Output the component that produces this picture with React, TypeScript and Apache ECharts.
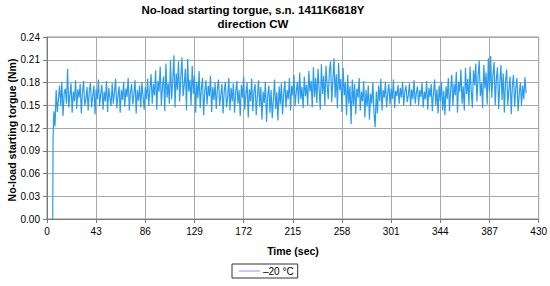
import React, { useEffect, useRef } from "react";
import * as echarts from "echarts";

const titleLines = ["No-load starting torgue, s.n. 1411K6818Y", "direction CW"];
const seriesName = "–20 °C";
const xTicks = [0, 43, 86, 129, 172, 215, 258, 301, 344, 387, 430];
const yTicks = [0, 0.03, 0.06, 0.09, 0.12, 0.15, 0.18, 0.21, 0.24];

// start-up transient (time s, torque Nm)
const startTimes = [5, 5.3, 6, 7];
const startValues = [0.0, 0.105, 0.142, 0.122];

// main record: sampled every 1 s starting at t = 8 s
const mainStart = 8;
const mainStep = 1;
const mainValues = [
  0.170, 0.141, 0.158, 0.176, 0.149, 0.181, 0.136, 0.166, 0.172, 0.152, 0.198, 0.147, 0.163, 0.179, 0.140, 0.168, 0.155, 0.183, 0.145, 0.171,
  0.160, 0.178, 0.139, 0.166, 0.182, 0.150, 0.157, 0.174, 0.143, 0.169, 0.180, 0.147, 0.162, 0.176, 0.138, 0.171, 0.158, 0.184, 0.149, 0.165,
  0.177, 0.144, 0.168, 0.155, 0.182, 0.141, 0.173, 0.160, 0.149, 0.179, 0.152, 0.167, 0.185, 0.146, 0.162, 0.175, 0.140, 0.170, 0.157, 0.181,
  0.148, 0.172, 0.161, 0.186, 0.143, 0.167, 0.178, 0.151, 0.164, 0.183, 0.139, 0.170, 0.156, 0.176, 0.147, 0.180, 0.162, 0.144, 0.174, 0.158,
  0.185, 0.149, 0.171, 0.191, 0.152, 0.178, 0.163, 0.196, 0.144, 0.182, 0.168, 0.201, 0.150, 0.175, 0.188, 0.142, 0.205, 0.160, 0.179, 0.152,
  0.210, 0.158, 0.183, 0.216, 0.147, 0.192, 0.170, 0.208, 0.155, 0.186, 0.213, 0.162, 0.177, 0.198, 0.143, 0.211, 0.168, 0.184, 0.150, 0.202,
  0.165, 0.190, 0.140, 0.181, 0.159, 0.195, 0.146, 0.172, 0.186, 0.137, 0.168, 0.183, 0.151, 0.176, 0.162, 0.189, 0.141, 0.174, 0.157, 0.180,
  0.145, 0.171, 0.184, 0.150, 0.163, 0.178, 0.139, 0.169, 0.181, 0.147, 0.160, 0.186, 0.143, 0.173, 0.155, 0.179, 0.140, 0.166, 0.182, 0.152,
  0.170, 0.136, 0.177, 0.160, 0.188, 0.144, 0.165, 0.180, 0.134, 0.171, 0.155, 0.185, 0.142, 0.168, 0.178, 0.137, 0.162, 0.183, 0.148, 0.174,
  0.131, 0.168, 0.153, 0.181, 0.128, 0.162, 0.176, 0.140, 0.170, 0.133, 0.158, 0.184, 0.145, 0.167, 0.130, 0.175, 0.151, 0.179, 0.138, 0.164,
  0.182, 0.147, 0.170, 0.158, 0.186, 0.143, 0.176, 0.163, 0.190, 0.149, 0.168, 0.181, 0.152, 0.193, 0.158, 0.174, 0.146, 0.188, 0.162, 0.177,
  0.150, 0.195, 0.168, 0.182, 0.147, 0.200, 0.161, 0.186, 0.153, 0.198, 0.171, 0.144, 0.204, 0.165, 0.189, 0.150, 0.202, 0.176, 0.158, 0.195,
  0.208, 0.154, 0.183, 0.212, 0.160, 0.191, 0.146, 0.206, 0.170, 0.185, 0.141, 0.199, 0.163, 0.180, 0.137, 0.190, 0.152, 0.175, 0.125, 0.184,
  0.150, 0.178, 0.138, 0.172, 0.160, 0.186, 0.143, 0.168, 0.155, 0.182, 0.134, 0.170, 0.148, 0.176, 0.131, 0.165, 0.152, 0.180, 0.140, 0.121,
  0.168, 0.139, 0.176, 0.155, 0.185, 0.143, 0.170, 0.160, 0.181, 0.147, 0.166, 0.178, 0.151, 0.172, 0.158, 0.184, 0.146, 0.169, 0.162, 0.177,
  0.152, 0.173, 0.160, 0.181, 0.150, 0.168, 0.176, 0.154, 0.163, 0.179, 0.149, 0.171, 0.158, 0.183, 0.152, 0.166, 0.175, 0.150, 0.170, 0.161,
  0.180, 0.147, 0.168, 0.158, 0.182, 0.144, 0.173, 0.161, 0.178, 0.142, 0.166, 0.184, 0.150, 0.171, 0.139, 0.176, 0.155, 0.181, 0.143, 0.169,
  0.137, 0.175, 0.158, 0.186, 0.142, 0.170, 0.190, 0.149, 0.178, 0.163, 0.194, 0.140, 0.181, 0.168, 0.197, 0.152, 0.175, 0.143, 0.199, 0.165,
  0.185, 0.150, 0.201, 0.170, 0.147, 0.196, 0.176, 0.205, 0.155, 0.188, 0.209, 0.162, 0.180, 0.146, 0.203, 0.172, 0.193, 0.151, 0.212, 0.168,
  0.215, 0.160, 0.190, 0.207, 0.150, 0.185, 0.200, 0.145, 0.178, 0.203, 0.157, 0.192, 0.140, 0.182, 0.197, 0.150, 0.171, 0.188, 0.138, 0.176,
  0.190, 0.148, 0.172, 0.186, 0.142, 0.165, 0.180, 0.150, 0.176, 0.158, 0.187, 0.166,
];

const FONT = "'Liberation Sans', Arial, sans-serif";

export default function App() {
  const ref = useRef<HTMLDivElement>(null);
  useEffect(() => {
    if (!ref.current) return;
    const chart = echarts.init(ref.current, undefined, { renderer: "svg" });
    const data: [number, number][] = [];
    startTimes.forEach((t, i) => data.push([t, startValues[i]]));
    mainValues.forEach((v, i) => data.push([mainStart + i * mainStep, v]));

    chart.setOption({
      animation: false,
      backgroundColor: "#ffffff",
      textStyle: { fontFamily: FONT },
      grid: {
        left: 47,
        right: 11,
        top: 37,
        bottom: 67,
        show: true,
        borderColor: "#8a8a8a",
        borderWidth: 1,
      },
      legend: {
        left: 232,
        top: 264,
        orient: "horizontal",
        borderColor: "#333",
        borderWidth: 1,
        borderRadius: 0,
        padding: [2, 4, 2, 7],
        itemWidth: 21,
        itemHeight: 1,
        itemGap: 4,
        textStyle: { fontSize: 10, color: "#000", fontFamily: FONT, padding: [0, 0, 0, -2] },
        data: [
          {
            name: seriesName,
            icon: "rect",
            itemStyle: { color: "#8f8fff", borderWidth: 0 },
          },
        ],
      },
      xAxis: {
        type: "value",
        min: xTicks[0],
        max: xTicks[xTicks.length - 1],
        interval: 43,
        axisLine: { show: true, lineStyle: { color: "#7a7a7a" } },
        axisTick: { show: true, length: 4, lineStyle: { color: "#7a7a7a" } },
        axisLabel: { fontSize: 10, color: "#000", margin: 7, fontFamily: FONT },
        splitLine: { show: true, lineStyle: { color: "#a8a8a8", width: 1 } },
      },
      yAxis: {
        type: "value",
        min: yTicks[0],
        max: yTicks[yTicks.length - 1],
        interval: 0.03,
        axisLine: { show: true, lineStyle: { color: "#7a7a7a" } },
        axisTick: { show: true, length: 4, lineStyle: { color: "#7a7a7a" } },
        axisLabel: {
          fontSize: 10,
          color: "#000",
          margin: 7,
          fontFamily: FONT,
          formatter: (v: number) => v.toFixed(2),
        },
        splitLine: { show: true, lineStyle: { color: "#a8a8a8", width: 1 } },
      },
      graphic: [
        {
          type: "text",
          x: 253,
          y: 2.5,
          style: {
            text: titleLines.join("\n"),
            textAlign: "center",
            fontSize: 11.5,
            fontWeight: "bold",
            lineHeight: 14,
            fill: "#000",
            fontFamily: FONT,
          },
        },
        {
          type: "text",
          x: 12,
          y: 130,
          rotation: Math.PI / 2,
          style: {
            text: "No-load starting torgue (Nm)",
            textAlign: "center",
            textVerticalAlign: "middle",
            fontSize: 10.5,
            fontWeight: "bold",
            fill: "#000",
            fontFamily: FONT,
          },
        },
        {
          type: "text",
          x: 293,
          y: 251,
          style: {
            text: "Time (sec)",
            textAlign: "center",
            textVerticalAlign: "middle",
            fontSize: 10.5,
            fontWeight: "bold",
            fill: "#000",
            fontFamily: FONT,
          },
        },
      ],
      series: [
        {
          name: seriesName,
          type: "line",
          data,
          showSymbol: false,
          symbol: "none",
          color: "#2a9cf0",
          lineStyle: { color: "#2a9cf0", width: 1.2 },
        },
      ],
    });
    return () => chart.dispose();
  }, []);
  return (
    <div
      ref={ref}
      style={{ position: "absolute", left: 0, top: 0, width: 550, height: 286 }}
    />
  );
}
